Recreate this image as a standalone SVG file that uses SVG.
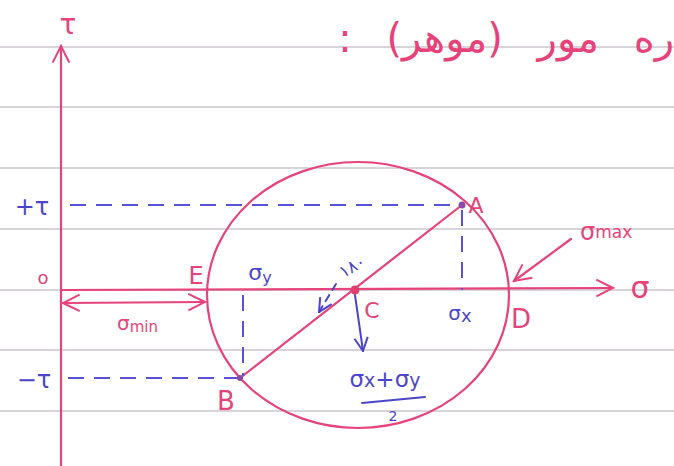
<svg xmlns="http://www.w3.org/2000/svg" width="674" height="466" viewBox="0 0 674 466">
<defs>
<style>
.rule{stroke:#cdc6cc;stroke-width:1.3;fill:none}
.pink{stroke:#e6437a;fill:none;stroke-width:2.2;stroke-linecap:round}
.blue{stroke:#4b46c8;fill:none;stroke-width:2;stroke-linecap:round}
.dash{stroke:#5a52d6;fill:none;stroke-width:2;stroke-dasharray:16 10}
.tp{fill:#e6437a;font-family:"DejaVu Sans","Liberation Sans",sans-serif}
.tb{fill:#4b46c8;font-family:"DejaVu Sans","Liberation Sans",sans-serif}
</style>
<marker id="hpl" viewBox="0 0 12 12" refX="11" refY="6" markerWidth="20" markerHeight="20" orient="auto-start-reverse" markerUnits="userSpaceOnUse">
<path d="M1,1 L11,6 L1,11" fill="none" stroke="#e6437a" stroke-width="1.2"/>
</marker>
<marker id="hb" viewBox="0 0 12 12" refX="11" refY="6" markerWidth="16" markerHeight="16" orient="auto" markerUnits="userSpaceOnUse">
<path d="M1,1 L11,6 L1,11" fill="none" stroke="#4b46c8" stroke-width="1.5"/>
</marker>
</defs>
<rect width="674" height="466" fill="#ffffff"/>
<g id="ruled-lines">
<line class="rule" x1="0" y1="47" x2="674" y2="47"/>
<line class="rule" x1="0" y1="107" x2="674" y2="107"/>
<line class="rule" x1="0" y1="168" x2="674" y2="168"/>
<line class="rule" x1="0" y1="229" x2="674" y2="229"/>
<line class="rule" x1="0" y1="290" x2="674" y2="290"/>
<line class="rule" x1="0" y1="350" x2="674" y2="350"/>
<line class="rule" x1="0" y1="411" x2="674" y2="411"/>
</g>
<g id="title">
<text class="tp" x="674" y="52" font-size="40" direction="rtl" unicode-bidi="embed" text-anchor="start" word-spacing="22">ره مور (موهر) :</text>
</g>
<g id="connectors">
<line class="pink" x1="61" y1="466" x2="61" y2="46" marker-end="url(#hpl)"/>
<line class="pink" x1="61" y1="290" x2="613" y2="288" marker-end="url(#hpl)"/>
<line class="pink" x1="63" y1="303" x2="205" y2="302" marker-start="url(#hpl)" marker-end="url(#hpl)"/>
<line class="pink" x1="571" y1="239" x2="514" y2="281" marker-end="url(#hpl)"/>
<line class="pink" x1="240" y1="378" x2="462" y2="205" stroke-width="1.6"/>
<line class="dash" x1="70" y1="205" x2="460" y2="205"/>
<line class="dash" x1="68" y1="378" x2="238" y2="378"/>
<line class="dash" x1="462" y1="210" x2="462" y2="290"/>
<line class="dash" x1="243" y1="295" x2="243" y2="376"/>
<line class="blue" x1="355" y1="295" x2="363" y2="351" marker-end="url(#hb)"/>
<line class="blue" x1="336" y1="284" x2="319" y2="312" stroke-dasharray="7 6" marker-end="url(#hb)"/>
</g>
<g id="circle">
<ellipse class="pink" cx="358" cy="295" rx="151" ry="133"/>
</g>
<g id="axes-labels">
<text class="tp" x="68" y="34" font-size="28" text-anchor="middle">τ</text>
<text class="tp" x="640" y="298" font-size="30" text-anchor="middle">σ</text>
<text class="tp" x="43" y="284" font-size="18" text-anchor="middle">o</text>
<text class="tb" x="32" y="215" font-size="24" text-anchor="middle">+τ</text>
<text class="tb" x="34" y="388" font-size="24" text-anchor="middle">−τ</text>
</g>
<g id="point-A">
<circle cx="462" cy="205" r="3.5" fill="#8a4aa8"/>
<text class="tp" x="476" y="213" font-size="22" text-anchor="middle">A</text>
</g>
<g id="point-B">
<circle cx="240" cy="378" r="3" fill="#8a4aa8"/>
<text class="tp" x="226" y="410" font-size="26" text-anchor="middle">B</text>
</g>
<g id="point-C">
<circle cx="355" cy="290" r="4.5" fill="#e0406e"/>
<text class="tp" x="372" y="318" font-size="22" text-anchor="middle">C</text>
</g>
<g id="point-D">
<text class="tp" x="521" y="328" font-size="26" text-anchor="middle">D</text>
</g>
<g id="point-E">
<text class="tp" x="196" y="284" font-size="24" text-anchor="middle">E</text>
</g>
<g id="labels">
<text class="tb" x="260" y="280" font-size="22" text-anchor="middle">σ<tspan font-size="16" dy="3">y</tspan></text>
<text class="tb" x="460" y="320" font-size="20" text-anchor="middle">σ<tspan font-size="18" dy="2">x</tspan></text>
<text class="tb" x="353" y="272" font-size="17" text-anchor="middle" transform="rotate(-30 353 268)">۱۸۰</text>
<text class="tp" x="117" y="330" font-size="20">σ<tspan font-size="15" dy="2">min</tspan></text>
<text class="tp" x="580" y="240" font-size="24">σ<tspan font-size="17" dy="-2">max</tspan></text>
<text class="tb" x="385" y="387" font-size="23" text-anchor="middle">σ<tspan font-size="19">x</tspan>+σ<tspan font-size="19">y</tspan></text>
<line class="blue" x1="362" y1="403" x2="425" y2="397"/>
<text class="tb" x="393" y="421" font-size="14" text-anchor="middle">2</text>
</g>
</svg>
